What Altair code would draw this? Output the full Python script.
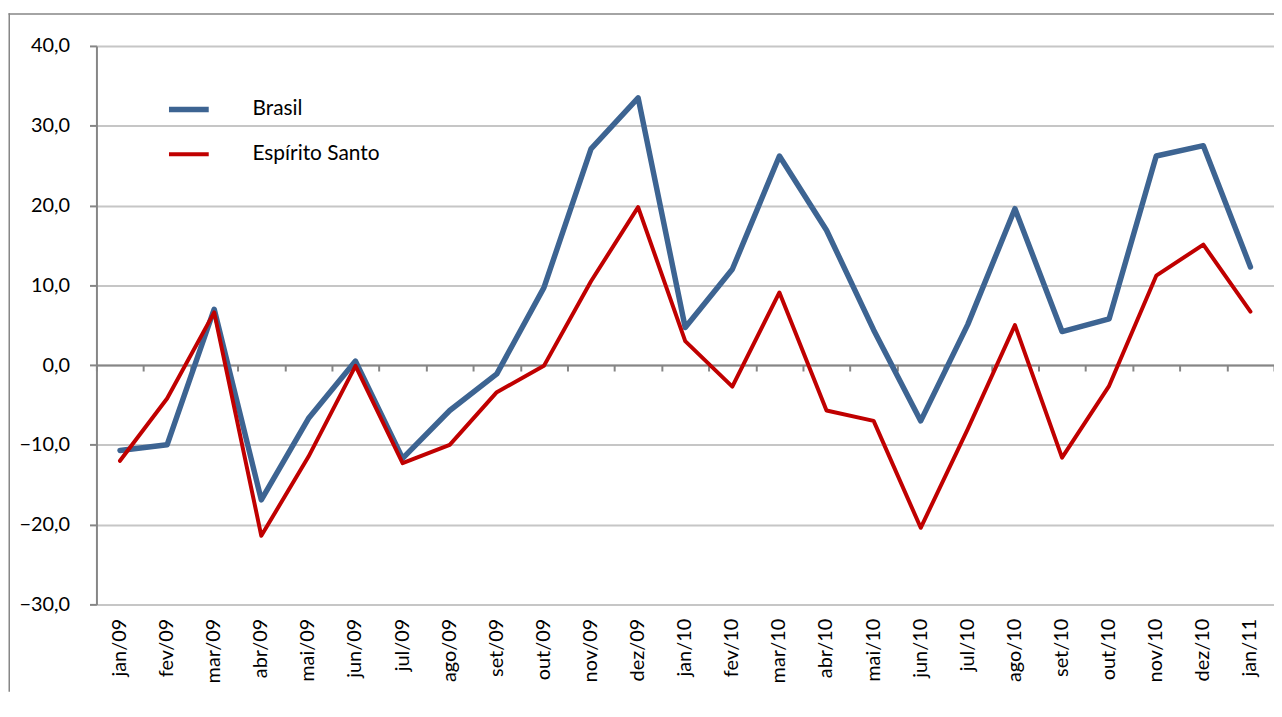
import altair as alt
import pandas as pd

months = ["jan/09", "fev/09", "mar/09", "abr/09", "mai/09", "jun/09", "jul/09",
          "ago/09", "set/09", "out/09", "nov/09", "dez/09", "jan/10", "fev/10",
          "mar/10", "abr/10", "mai/10", "jun/10", "jul/10", "ago/10", "set/10",
          "out/10", "nov/10", "dez/10", "jan/11"]
brasil = [-10.7, -10.0, 7.0, -16.9, -6.7, 0.5, -11.7, -5.7, -1.1, 9.7, 27.1, 33.5,
          4.7, 12.0, 26.2, 16.9, 4.4, -7.0, 5.1, 19.6, 4.2, 5.8, 26.2, 27.5, 12.3]
espirito_santo = [-12.0, -4.2, 6.6, -21.4, -11.5, -0.1, -12.3, -10.0, -3.4, -0.1,
                  10.5, 19.8, 3.0, -2.7, 9.1, -5.7, -7.0, -20.4, -8.0, 5.0, -11.6,
                  -2.6, 11.2, 15.1, 6.7]
series = ["Brasil", "Espírito Santo"]
colors = ["#3d6492", "#c00000"]
y_ticks = [-30, -20, -10, 0, 10, 20, 30, 40]

rows = []
for name, vals in zip(series, [brasil, espirito_santo]):
    for m, v in zip(months, vals):
        rows.append({"mes": m, "serie": name, "valor": v})
df = pd.DataFrame(rows)

W, H = 1185, 562
FONT = "Lato"
GREY = "#868686"

xscale = alt.Scale(type="band", paddingInner=0, paddingOuter=0)
yscale = alt.Scale(domain=[-30, 40], nice=False, zero=False)

label_axis = alt.Axis(
    title=None, orient="bottom", domain=False, ticks=False, grid=False,
    labelAngle=-90, labelPadding=14, labelFont=FONT, labelFontSize=20,
    labelColor="black",
)
zero_axis = alt.Axis(
    title=None, orient="bottom", labels=False, grid=False, domain=True,
    domainColor=GREY, domainWidth=2, ticks=True, tickBand="extent", tickSize=6,
    tickColor=GREY, tickWidth=2, offset=-(H - H * 40 / 70),
)
y_axis = alt.Axis(
    title=None, values=y_ticks, grid=True, gridColor="#c6c6c6", gridWidth=2,
    domainColor=GREY, domainWidth=2, tickColor=GREY, tickWidth=2, tickSize=7,
    labelPadding=20, labelFont=FONT, labelFontSize=20, labelColor="black",
    labelExpr="replace(format(datum.value, '.1f'), '.', ',')",
)

zero_layer = alt.Chart(df).mark_line(opacity=0).encode(
    x=alt.X("mes:O", sort=months, scale=xscale, axis=zero_axis),
    y=alt.Y("valor:Q", scale=yscale, axis=y_axis),
    detail="serie:N",
)

lines = alt.Chart(df).mark_line(strokeJoin="round", strokeCap="round").encode(
    x=alt.X("mes:O", sort=months, scale=xscale, axis=label_axis),
    y=alt.Y("valor:Q", scale=yscale, axis=y_axis),
    color=alt.Color(
        "serie:N", sort=series,
        scale=alt.Scale(domain=series, range=colors),
        legend=alt.Legend(
            title=None, orient="none", legendX=70, legendY=41, padding=0,
            symbolType="stroke", symbolSize=1600, symbolStrokeWidth=5,
            labelFont=FONT, labelFontSize=21, labelColor="black",
            labelOffset=41, rowPadding=12, labelLimit=300,
        ),
    ),
    strokeWidth=alt.StrokeWidth(
        "serie:N", scale=alt.Scale(domain=series, range=[5.5, 4]), legend=None
    ),
)

one = pd.DataFrame({"a": [0]})
frame_left = alt.Chart(one).mark_rect(color=GREY).encode(
    x=alt.value(-88.5), x2=alt.value(-87), y=alt.value(-33), y2=alt.value(H + 88)
)
frame_top = alt.Chart(one).mark_rect(color=GREY).encode(
    x=alt.value(-88.5), x2=alt.value(W), y=alt.value(-33), y2=alt.value(-31.5)
)

chart = (
    alt.layer(frame_left, frame_top, zero_layer, lines)
    .resolve_axis(x="independent")
    .properties(
        width=W, height=H,
        autosize=alt.AutoSizeParams(type="none"),
        padding={"left": 89, "top": 36, "right": 0, "bottom": 88},
        background="white",
    )
    .configure_view(stroke=None)
)

chart.save("out.html", embed_options={"renderer": "svg", "actions": False})
